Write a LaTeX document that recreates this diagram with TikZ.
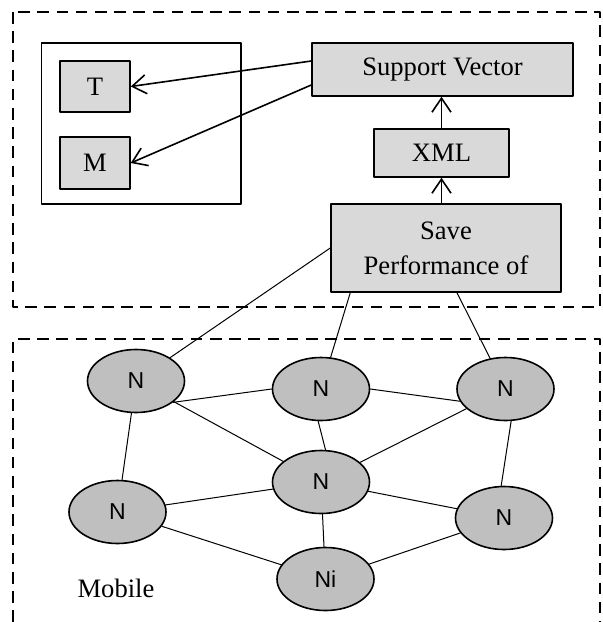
\documentclass[tikz,border=0pt]{standalone}
\usepackage{fontspec}
\setmainfont{Liberation Serif}
\newfontfamily\nodefont{Liberation Sans}
\usetikzlibrary{arrows.meta}
\usetikzlibrary{shapes.geometric}
\definecolor{boxgray}{rgb}{0.85,0.85,0.85}
\definecolor{nodegray}{rgb}{0.75,0.75,0.75}

\begin{document}
\begin{tikzpicture}[line cap=round,line join=round,x=0.5pt,y=-0.5pt,
  box/.style={draw,line width=0.75pt,fill=boxgray,inner sep=0pt,font=\fontsize{13.3}{17.5}\selectfont},
  mnode/.style={ellipse,draw,line width=0.8pt,fill=nodegray,inner sep=0pt,minimum width=48.5pt,minimum height=31.5pt,font=\nodefont\fontsize{11.5}{12}\selectfont},
  link/.style={line width=0.5pt},
  frame/.style={line cap=butt,line width=1pt,dash pattern=on 5.8pt off 3.8pt},
  arr/.style={-{Straight Barb[length=7pt,width=9.5pt]},line width=0.8pt}]
\useasboundingbox (0,0) rectangle (602,622);
% dashed frames
\draw[frame] (13,12) rectangle (600,307);
\draw[frame] (13,622) -- (13,339) -- (600,339) -- (600,622);
% upper part
\draw[line width=0.75pt] (41.5,43) rectangle (241,204);
\node[box,minimum width=35pt,minimum height=25.5pt] (t) at (95,86.5) {T};
\node[box,minimum width=35pt,minimum height=26pt] (m) at (95,163) {M};
\node[box,minimum width=130.5pt,minimum height=26.5pt] (sv) at (442.5,69.5) {Support Vector};
\node[box,minimum width=67.5pt,minimum height=24pt] (xml) at (441.5,153) {XML};
\node[box,minimum width=115pt,minimum height=44pt,align=center] (save) at (446,248) {Save\\Performance of};
\draw[arr] ([yshift=4.25pt]sv.west) -- (t.east);
\draw[arr] ([yshift=-7.75pt]sv.west) -- (m.east);
\draw[arr] (xml.north) -- (sv.south -| xml.north);
\draw[arr] (save.north -| xml.south) -- (xml.south);
% mobile nodes
\node[mnode] (n1) at (136,381) {N};
\node[mnode] (n2) at (321,389) {N};
\node[mnode] (n3) at (505.5,389) {N};
\node[mnode] (n4) at (321,482) {N};
\node[mnode] (n5) at (117.5,512) {N};
\node[mnode] (n6) at (504,518) {N};
\node[mnode] (ni) at (325.5,579) {Ni};
\node[font=\fontsize{13.3}{16}\selectfont] (mob) at (116,588) {Mobile};
\draw[link] (save.west) -- (n1);
\draw[link] ([xshift=10pt]save.south west) -- (n2);
\draw[link] ([xshift=5.5pt]save.south) -- (n3);
\draw[link] (n1.-30) -- (n2.west);
\draw[link] (n2.east) -- (n3.195);
\draw[link] (n1) -- (n5);
\draw[link] (n1) -- (n4);
\draw[link] (n2.-95) -- (n4.82);
\draw[link] (n3) -- (n4);
\draw[link] (n3.-80) -- (n6.95);
\draw[link] (n5) -- (n4);
\draw[link] (n4) -- (n6);
\draw[link] (n4) -- (ni);
\draw[link] (n5) -- (ni);
\draw[link] (n6) -- (ni);
\end{tikzpicture}
\end{document}
